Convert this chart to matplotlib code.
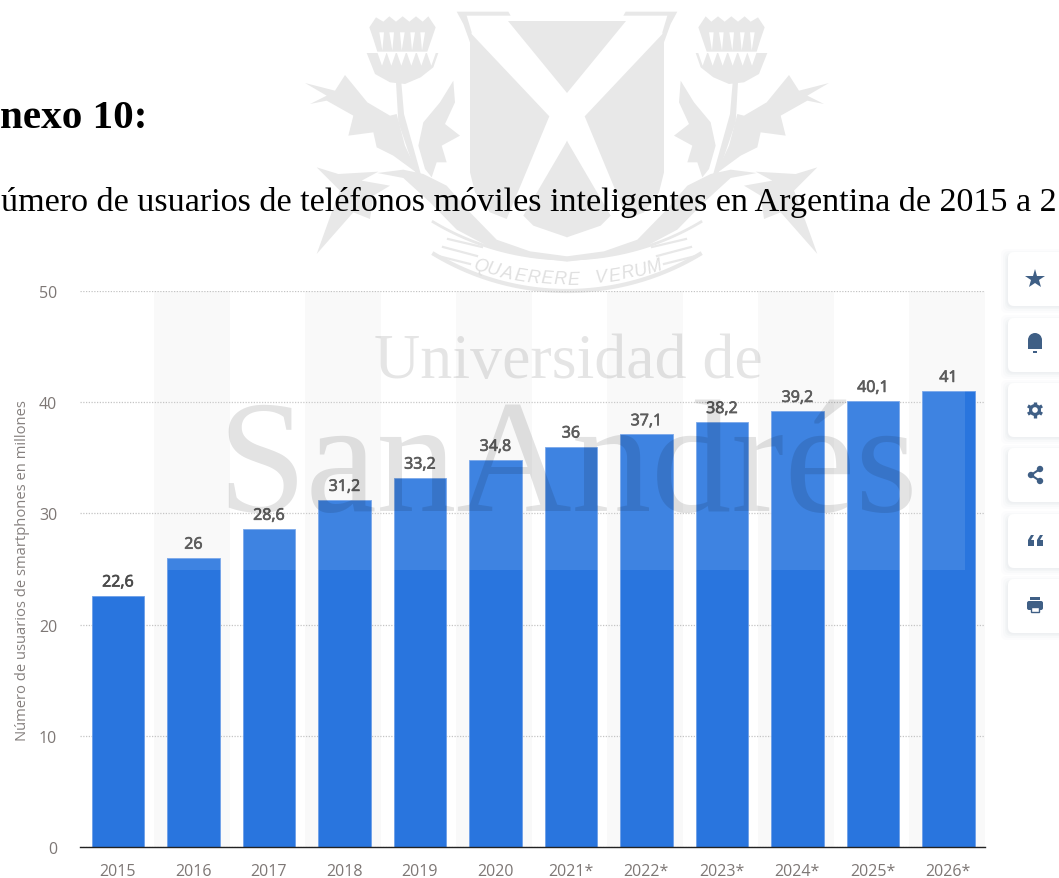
import numpy as np
import matplotlib
matplotlib.use('Agg')
import matplotlib.pyplot as plt
import matplotlib.patheffects as pe
from matplotlib.patches import Polygon, Rectangle, FancyBboxPatch, Circle, Wedge

years = ['2015', '2016', '2017', '2018', '2019', '2020', '2021*', '2022*', '2023*', '2024*', '2025*', '2026*']
users = [22.6, 26, 28.6, 31.2, 33.2, 34.8, 36, 37.1, 38.2, 39.2, 40.1, 41]
value_labels = ['22,6', '26', '28,6', '31,2', '33,2', '34,8', '36', '37,1', '38,2', '39,2', '40,1', '41']
y_ticks = [0, 10, 20, 30, 40, 50]

W, H = 1059, 879
SANS = 'Open Sans'
SERIF = 'Liberation Serif'
ICON = '#3f5f85'
CREST = '#e8e8e8'

fig = plt.figure(figsize=(W / 100, H / 100), dpi=100)


def pixel_axes(zorder):
    ax = fig.add_axes([0, 0, 1, 1], zorder=zorder)
    ax.set_xlim(0, W)
    ax.set_ylim(H, 0)
    ax.axis('off')
    ax.patch.set_visible(False)
    return ax


def crop(points):
    return [(290 + x / 3, y / 3) for x, y in points]


def both_sides(ax, points, color=CREST, zorder=1):
    pts = crop(points)
    ax.add_patch(Polygon(pts, color=color, lw=0, zorder=zorder))
    ax.add_patch(Polygon([(2 * 567 - x, y) for x, y in pts], color=color, lw=0, zorder=zorder))


back = pixel_axes(0)

# crest behind the chart: left half, mirrored
crest_parts = [
    # shield
    [(500, 38), (655, 38), (662, 50), (530, 50), (545, 100), (540, 130), (520, 75)],
    [(655, 65), (831.5, 65), (831.5, 282)],
    [(540, 100), (778, 352), (650, 660), (600, 640), (555, 580), (540, 520)],
    [(831.5, 425), (700, 650), (730, 680), (831.5, 715)],
    # thistle head and stem
    [(238, 85), (258, 55), (280, 68), (298, 52), (318, 68), (338, 52), (358, 68), (378, 52), (398, 68), (415, 52),
     (437, 85), (425, 120), (412, 158), (262, 158), (250, 120)],
    [(230, 162), (445, 162), (430, 205), (392, 235), (345, 255), (300, 250), (255, 225)],
    [(318, 250), (334, 250), (342, 345), (398, 545), (380, 532), (325, 370)],
    # leaves
    [(45, 252), (135, 275), (165, 228), (232, 310), (300, 350), (320, 345), (345, 440), (385, 525), (310, 470),
     (260, 445), (250, 400), (175, 410), (190, 350), (110, 305), (60, 315), (110, 290)],
    [(490, 245), (495, 310), (465, 375), (510, 410), (455, 440), (470, 490), (440, 490), (425, 535), (405, 510),
     (385, 440), (400, 370), (450, 310)],
    [(80, 505), (145, 525), (265, 518), (215, 545), (300, 560), (250, 590), (240, 660), (190, 640), (80, 765),
     (125, 640), (150, 575)],
    # band going round the shield
    [(262, 522), (340, 512), (400, 525), (470, 560), (540, 640), (620, 722), (720, 757), (831.5, 772), (831.5, 788),
     (720, 775), (600, 745), (500, 692), (420, 610), (340, 537)],
]
for part in crest_parts:
    both_sides(back, part)

# cuts in the thistle head
for sx in (275, 305, 337, 368, 398):
    both_sides(back, [(sx - 7, 100), (sx + 7, 100), (sx + 2 if sx < 337 else sx - 2, 155)], color='white', zorder=2)
for sx in (262, 290, 320, 350, 380, 410):
    both_sides(back, [(sx, 160), (sx + 14, 200), (sx + 28, 160)], color='white', zorder=2)

# ribbon with the motto
t = np.radians(np.linspace(59, 121, 70))
back.plot(567 + 260 * np.cos(t), 0 + 260 * np.sin(t), color=CREST, lw=2)
back.plot(567 + 258 * np.cos(t), 34 + 258 * np.sin(t), color=CREST, lw=3)
strokes = [((448, 240), (482, 248)), ((443, 248), (477, 257)), ((438, 257), (470, 265))]
for p0, p1 in strokes:
    back.plot([p0[0], p1[0]], [p0[1], p1[1]], color=CREST, lw=1.6)
    back.plot([2 * 567 - p0[0], 2 * 567 - p1[0]], [p0[1], p1[1]], color=CREST, lw=1.6)
motto = 'QUAERERE VERUM'
for i, ch in enumerate(motto):
    a = np.radians(107 - i * (34 / (len(motto) - 1)))
    back.text(567 + 297 * np.cos(a), -17 + 297 * np.sin(a), ch, family='Liberation Sans', style='italic', fontsize=13,
              color='#e0e0e0', ha='center', va='center', rotation=np.degrees(np.pi / 2 - a))

# action buttons on the right side
card_tops = [253, 319, 384, 449, 515, 580]
for top in card_tops:
    for grow, alpha in [(7, 0.012), (5, 0.016), (3, 0.02), (1.5, 0.025)]:
        back.add_patch(FancyBboxPatch((1008 - grow, top + 4 - grow), 70 + 2 * grow, 50 + 2 * grow,
                                      boxstyle='round,pad=0,rounding_size=6', fc='#27405f', ec='none', alpha=alpha))
    back.add_patch(FancyBboxPatch((1008, top), 70, 54, boxstyle='round,pad=0,rounding_size=6', fc='white', ec='none'))

cx = 1035
back.plot([cx], [280], marker='*', ms=15, color=ICON, mew=0)
back.add_patch(Wedge((cx, 341), 7, 180, 360, color=ICON, lw=0, zorder=3))
back.add_patch(Rectangle((cx - 7, 341), 14, 9, color=ICON, lw=0, zorder=3))
back.add_patch(Rectangle((cx - 2, 352), 4, 2, color=ICON, lw=0, zorder=3))
for ang in (30, 90, 150):
    dx, dy = 8.2 * np.cos(np.radians(ang)), 8.2 * np.sin(np.radians(ang))
    back.plot([cx - dx, cx + dx], [411 - dy, 411 + dy], color=ICON, lw=2.4, zorder=3, solid_capstyle='butt')
back.add_patch(Circle((cx, 411), 6, color=ICON, lw=0, zorder=3))
back.add_patch(Circle((cx, 411), 2.8, color='white', lw=0, zorder=4))
for (sx, sy) in [(cx - 4, 476), (cx + 5, 470), (cx + 5, 482)]:
    back.add_patch(Circle((sx, sy), 3.2, color=ICON, lw=0, zorder=3))
back.plot([cx + 5, cx - 4, cx + 5], [470, 476, 482], color=ICON, lw=1.5, zorder=3)
for qx in (cx - 7, cx + 2):
    back.add_patch(Polygon([(qx, 547), (qx + 6, 547), (qx + 6, 541), (qx + 3, 541), (qx + 6, 536), (qx + 3, 536), (qx, 541)],
                           color=ICON, lw=0, zorder=3))
back.add_patch(FancyBboxPatch((cx - 8, 602), 16, 9, boxstyle='round,pad=0,rounding_size=2', fc=ICON, ec='none', zorder=3))
back.add_patch(Rectangle((cx - 5, 598), 10, 3, color=ICON, lw=0, zorder=3))
back.add_patch(Rectangle((cx - 4, 608), 8, 5, fc='white', ec=ICON, lw=1, zorder=4))

# page text, cut on the left like the scan
back.text(0, 128, 'nexo 10:', family=SERIF, weight='bold', fontsize=29.6, color='black', va='baseline', zorder=5)
back.text(1, 211, 'úmero de usuarios de teléfonos móviles inteligentes en Argentina de 2015 a 2', family=SERIF,
          fontsize=24.62, color='black', va='baseline', zorder=5)

# chart
ax = fig.add_axes([80 / W, 1 - 848 / H, 905 / W, 556 / H], zorder=1)
ax.patch.set_visible(False)
x = np.arange(len(users))
ax.set_xlim(-0.502, 11.485)
ax.set_ylim(0, 50)
for i in x[1::2]:
    ax.axvspan(i - 0.52, i + 0.48, color='#f9f9f9', lw=0, zorder=0)
ax.yaxis.grid(True, color='#c4c4c4', lw=0.9, ls=(0, (1, 1.2)), zorder=1)
ax.set_axisbelow(True)
ax.bar(x, users, width=0.693, color='#2975de', edgecolor='#6d9fe8', linewidth=0.6, zorder=2)
for i, val in enumerate(users):
    ax.annotate(value_labels[i], (i, val), xytext=(0, 9.5), textcoords='offset points', ha='center', va='center',
                family=SANS, fontsize=11.5, color='#4a4a4a', zorder=3,
                path_effects=[pe.withStroke(linewidth=0.5, foreground='#4a4a4a')])
ax.set_xticks(x, years)
ax.set_yticks(y_ticks)
ax.tick_params(axis='both', length=0, labelsize=11.5, labelcolor='#7d7775')
ax.tick_params(axis='x', pad=11.5)
ax.tick_params(axis='y', pad=16.5)
for lab in ax.get_xticklabels() + ax.get_yticklabels():
    lab.set_family(SANS)
for s in ['top', 'right', 'left']:
    ax.spines[s].set_visible(False)
ax.spines['bottom'].set_color('#222222')
ax.spines['bottom'].set_linewidth(1)
ax.set_ylabel('Número de usuarios de smartphones en millones', family=SANS, fontsize=10.6, color='#85807e')
ax.yaxis.set_label_coords((30 - 80) / 905, (848 - 571) / 556)

# watermark on top of the chart
front = pixel_axes(2)
front.add_patch(Rectangle((168, 320), 797, 251, fc='white', ec='none', alpha=0.1))
front.text(568, 378, 'Universidad de', family=SERIF, fontsize=46, color='black', alpha=0.1, ha='center', va='baseline')
front.text(568, 511, 'SanAndrés', family=SERIF, fontsize=115, color='black', alpha=0.11, ha='center', va='baseline')

fig.savefig('out.png', dpi=100)
